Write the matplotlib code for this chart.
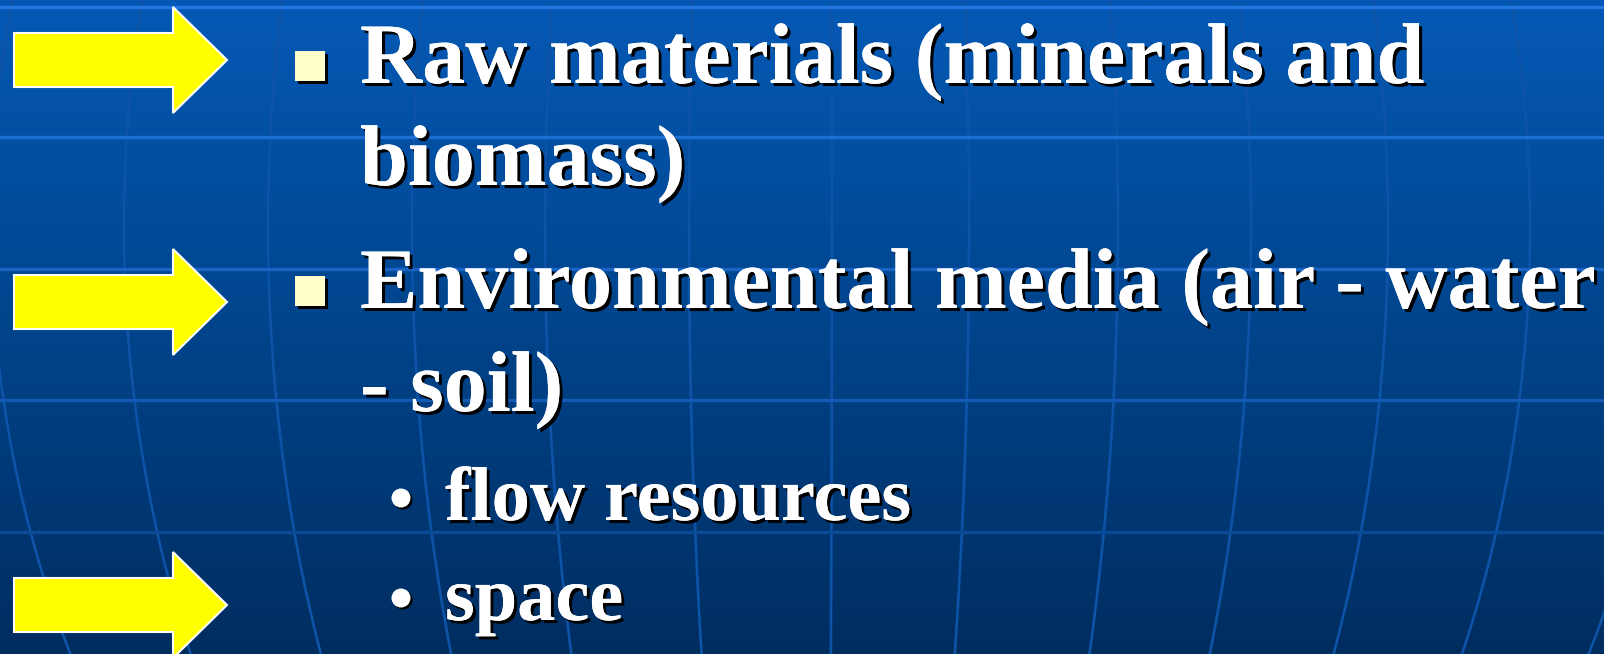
import matplotlib
matplotlib.use("Agg")
import matplotlib.pyplot as plt
import matplotlib.patheffects as pe
import numpy as np
from matplotlib.patches import FancyArrow, Rectangle, Circle

W, H = 1604, 654

# slide content: (text, level, baseline y)
LINES = [
    ("Raw materials (minerals and", 1, 83),
    ("biomass)", 1, 185),
    ("Environmental media (air - water", 1, 308),
    ("- soil)", 1, 411),
    ("flow resources", 2, 520),
    ("space", 2, 620),
]
SQUARE_Y = [66, 291]          # square bullet centres (level 1)
DOT_Y = [498, 598]            # round bullet centres (level 2)
ARROW_Y = [60, 302, 605]      # yellow arrows at the left

# background grid ("globe")
H_LINES = [7, 137, 269, 400, 532]
H_COLORS = ["#2176e0", "#1d6ed4", "#1865c6", "#125ab3", "#0b4a96"]
MERIDIANS = [-9, 124, 268, 412, 545, 689, 832, 969, 1118, 1251, 1388, 1530, 1670]
CX, YC, RY = 820, 227, 1000

fig = plt.figure(figsize=(W / 100, H / 100), dpi=100)
ax = fig.add_axes([0, 0, 1, 1])
ax.set_xlim(0, W)
ax.set_ylim(H, 0)
ax.axis("off")

# vertical gradient
ys = np.linspace(0, H, 300)
stops_y = [0, 300, H]
stops_c = np.array([[5, 89, 181], [0, 70, 143], [0, 45, 96]]) / 255
grad = np.stack([np.interp(ys, stops_y, stops_c[:, i]) for i in range(3)], axis=-1)
ax.imshow(grad[:, None, :], extent=[0, W, H, 0], aspect="auto", zorder=0)

yy = np.linspace(0, H, 200)
g = np.sqrt(1 - ((yy - YC) / RY) ** 2)
for xm in MERIDIANS:
    ax.plot(CX + (xm - CX) * g, yy, color="#0d53a8", lw=1.9, zorder=1)
for yh, c in zip(H_LINES, H_COLORS):
    ax.axhline(yh, color=c, lw=2.4, zorder=1)

# arrows
for ya in ARROW_Y:
    ax.add_patch(FancyArrow(14, ya, 213, 0, width=54, head_width=106, head_length=54,
                            length_includes_head=True, facecolor="#ffff00",
                            edgecolor="white", lw=1.5, zorder=3))

# bullets
for yb in SQUARE_Y:
    ax.add_patch(Rectangle((298, yb - 12), 30, 30, facecolor="black", lw=0, zorder=3))
    ax.add_patch(Rectangle((295, yb - 15), 30, 30, facecolor="#ffffcc", lw=0, zorder=4))
for yb in DOT_Y:
    ax.add_patch(Circle((403, yb + 2), 9.5, facecolor="black", lw=0, zorder=3))
    ax.add_patch(Circle((401, yb), 9.5, facecolor="white", lw=0, zorder=4))

shadow = [pe.withSimplePatchShadow(offset=(2.2, -2.2), shadow_rgbFace="black", alpha=1.0),
          pe.Normal()]
for text, level, yb in LINES:
    x = 360 if level == 1 else 445
    size = 62 if level == 1 else 55
    ax.text(x, yb, text, ha="left", va="baseline", color="white",
            fontsize=size, fontweight="bold", family="Liberation Serif",
            path_effects=shadow, zorder=5)

fig.savefig("out.png", dpi=100)
